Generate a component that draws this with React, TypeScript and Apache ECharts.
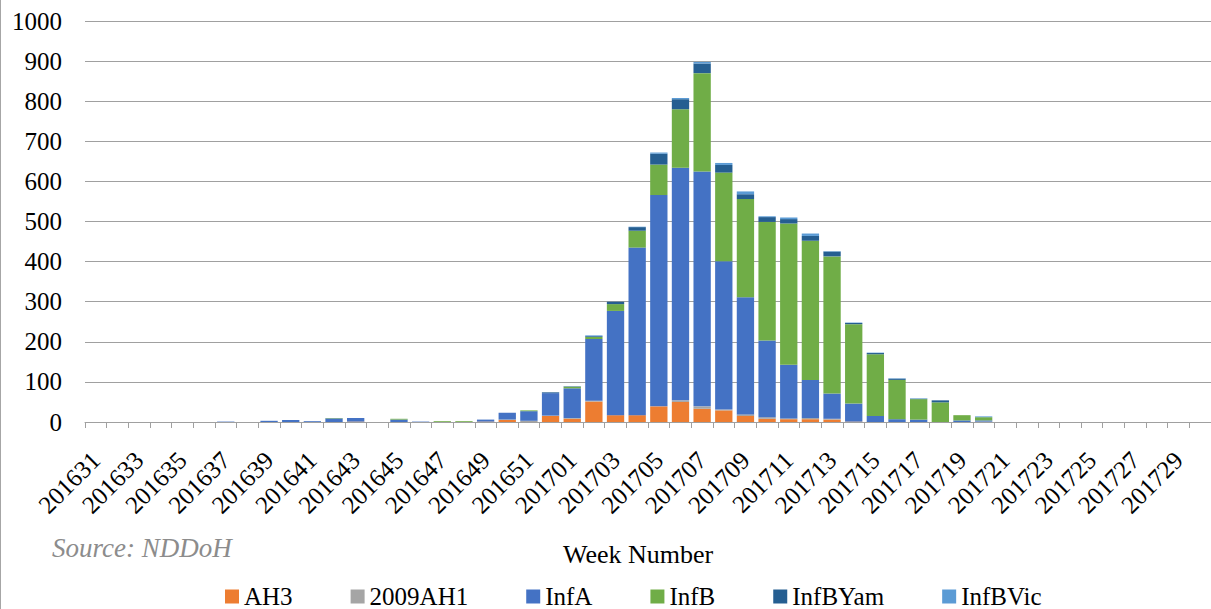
import React, { useEffect, useRef } from "react";
import * as echarts from "echarts";

const weeks: string[] = [
  "201631","201632","201633","201634","201635","201636","201637","201638","201639","201640",
  "201641","201642","201643","201644","201645","201646","201647","201648","201649","201650",
  "201651","201652",
  "201701","201702","201703","201704","201705","201706","201707","201708","201709","201710",
  "201711","201712","201713","201714","201715","201716","201717","201718","201719","201720",
  "201721","201722","201723","201724","201725","201726","201727","201728","201729","201730",
];

const ah3: number[] = [
  0,0,0,0,0,0,0,0,0,0, 0,0,1,0,0,0,0,0,1,5, 0,15,
  8,51,17,17,39,50,33,29,15,8, 7,7,6,1,0,0,0,0,0,0, 0,0,0,0,0,0,0,0,0,0,
];
const ah1_2009: number[] = [
  0,0,0,0,0,0,0,0,0,0, 0,0,0,0,0,0,0,0,0,1, 3,1,
  2,2,0,0,0,4,6,2,4,4, 2,3,2,0,0,0,0,0,0,1, 0,0,0,0,0,0,0,0,0,0,
];
const infA: number[] = [
  0,0,0,0,0,0,1,0,3,5, 2,9,9,0,6,1,0,0,5,17, 24,56,
  74,154,260,418,527,580,586,370,292,191, 134,95,63,45,15,7,6,0,4,3, 0,0,0,0,0,0,0,0,0,0,
];
const infB: number[] = [
  0,0,0,0,0,0,0,0,0,0, 0,1,0,0,2,0,2,2,0,0, 2,0,
  4,5,17,42,76,146,245,221,245,296, 352,347,342,198,154,98,51,49,13,8, 0,0,0,0,0,0,0,0,0,0,
];
const infBYam: number[] = [
  0,0,0,0,0,0,0,0,0,0, 0,0,0,0,0,0,0,0,0,0, 0,2,
  1,2,6,9,27,25,24,19,12,12, 11,12,12,3,3,3,1,5,0,0, 0,0,0,0,0,0,0,0,0,0,
];
const infBVic: number[] = [
  0,0,0,0,0,0,0,0,0,0, 0,0,0,0,0,0,0,0,0,0, 0,0,
  0,2,0,1,3,3,4,5,7,2, 4,6,1,1,1,1,1,0,0,2, 0,0,0,0,0,0,0,0,0,0,
];

const seriesNames: string[] = ["AH3", "2009AH1", "InfA", "InfB", "InfBYam", "InfBVic"];
const seriesColors: string[] = ["#ED7D31", "#A5A5A5", "#4472C4", "#70AD47", "#255E91", "#5B9BD5"];
const seriesData: number[][] = [ah3, ah1_2009, infA, infB, infBYam, infBVic];

const yTicks = { min: 0, max: 1000, interval: 100 };

const FONT = "Times New Roman, Liberation Serif, serif";

export default function App() {
  const ref = useRef<HTMLDivElement>(null);
  useEffect(() => {
    if (!ref.current) return;
    const chart = echarts.init(ref.current, undefined, { renderer: "svg" });
    chart.setOption({
      animation: false,
      backgroundColor: "#ffffff",
      textStyle: { fontFamily: FONT },
      grid: { left: 85, right: -2, top: 21, bottom: 187, containLabel: false },
      xAxis: {
        type: "category",
        data: weeks,
        boundaryGap: true,
        axisLine: { show: true, lineStyle: { color: "#a0a0a0", width: 1 } },
        axisTick: { show: true, interval: 0, length: 6, lineStyle: { color: "#a0a0a0" } },
        axisLabel: {
          interval: 1,
          rotate: 45,
          margin: 34,
          fontFamily: FONT,
          fontSize: 25,
          color: "#000000",
        },
      },
      yAxis: {
        type: "value",
        min: yTicks.min,
        max: yTicks.max,
        interval: yTicks.interval,
        axisLine: { show: false },
        axisTick: { show: false },
        axisLabel: {
          margin: 23,
          fontFamily: FONT,
          fontSize: 25,
          color: "#000000",
          formatter: (v: number) => String(v),
        },
        splitLine: { show: true, lineStyle: { color: "#a0a0a0", width: 1 } },
      },
      legend: {
        data: seriesNames,
        left: 225,
        top: 584,
        padding: 0,
        itemGap: 58,
        itemWidth: 14,
        itemHeight: 14,
        icon: "rect",
        textStyle: { fontFamily: FONT, fontSize: 25, lineHeight: 24, color: "#000000" },
      },
      graphic: [
        {
          type: "line",
          shape: { x1: 0.5, y1: 0, x2: 0.5, y2: 609 },
          style: { stroke: "#a6a6a6", lineWidth: 1 },
        },
        {
          type: "text",
          left: 52,
          top: 534,
          style: {
            text: "Source: NDDoH",
            fontFamily: FONT,
            fontStyle: "italic",
            fontSize: 27,
            fill: "#8c8c8c",
          },
        },
        {
          type: "text",
          left: 563,
          top: 541,
          style: {
            text: "Week Number",
            fontFamily: FONT,
            fontSize: 26,
            fill: "#000000",
          },
        },
      ],
      series: seriesNames.map((name, i) => ({
        name,
        type: "bar",
        stack: "total",
        barCategoryGap: "20%",
        data: seriesData[i],
        itemStyle: { color: seriesColors[i] },
      })),
    });
    return () => chart.dispose();
  }, []);
  return (
    <div
      ref={ref}
      style={{ position: "fixed", left: 0, top: 0, width: 1211, height: 609 }}
    />
  );
}
